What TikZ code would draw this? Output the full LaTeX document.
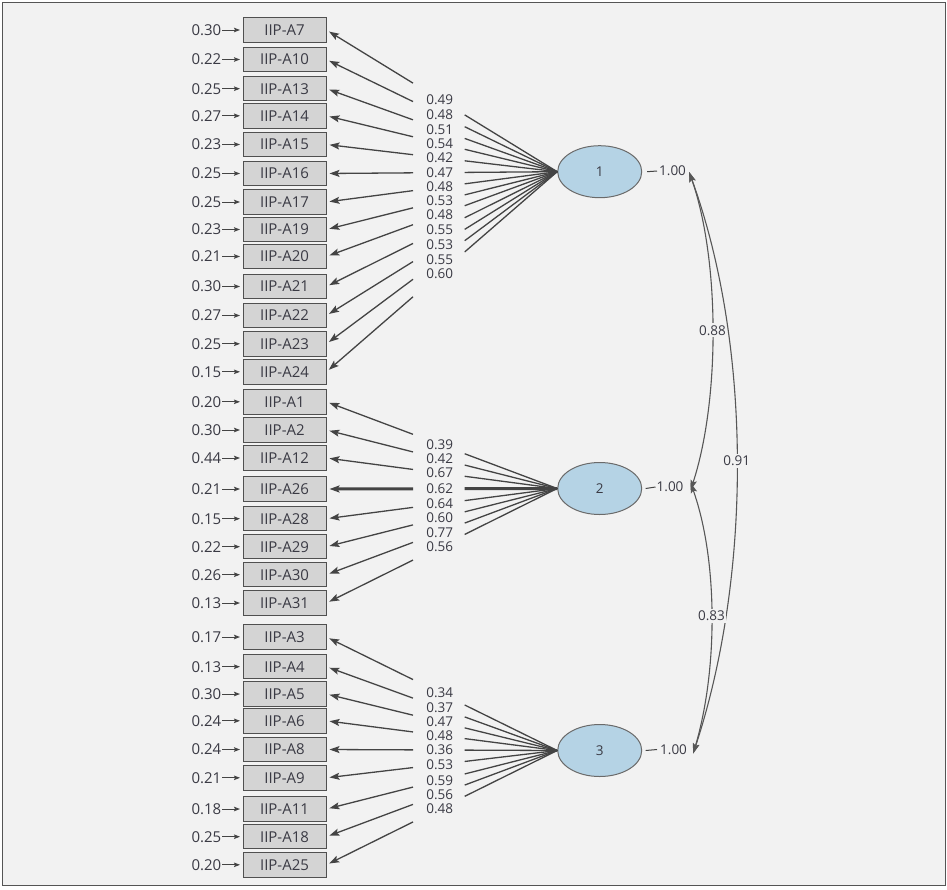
\documentclass[tikz,border=0pt]{standalone}
\usepackage{fontspec}
\setmainfont{Open Sans}
\usetikzlibrary{arrows.meta,calc,shapes.geometric}
\definecolor{bg}{HTML}{F2F2F2}
\definecolor{frame}{HTML}{555555}
\definecolor{boxfill}{HTML}{D4D4D4}
\definecolor{boxline}{HTML}{505050}
\definecolor{latfill}{HTML}{B5D3E5}
\definecolor{latline}{HTML}{6A6A6A}
\definecolor{txt}{HTML}{3A3A44}
\definecolor{ln}{HTML}{444444}
\begin{document}
\begin{tikzpicture}[x=1pt,y=-1pt,
  item/.style={draw=boxline, fill=boxfill, line width=1pt, minimum width=83pt, minimum height=24.5pt, inner sep=0pt, text=txt, font=\fontsize{15}{16}\selectfont},
  err/.style={anchor=east, inner sep=0pt, text=txt, font=\fontsize{15}{16}\selectfont},
  lab/.style={inner sep=0pt, text=txt, font=\fontsize{13.5}{14}\selectfont},
  lat/.style={ellipse, draw=latline, fill=latfill, line width=1pt, minimum width=84pt, minimum height=52pt, inner sep=0pt, text=txt, font=\fontsize{13.5}{15}\selectfont},
  var/.style={anchor=west, inner sep=0pt, text=txt, font=\fontsize{13.5}{14}\selectfont},
  lw1/.style={line width=1.3pt},
  lw3/.style={line width=3pt},
  ld/.style={draw=ln},
  ldarr/.style={draw=ln, -{Stealth[length=10pt,width=7pt,inset=2pt]}, shorten >=3pt},
  errarr/.style={draw=ln, line width=1pt, -{Stealth[length=6pt,width=4.5pt,inset=1pt]}, shorten >=2.5pt, shorten <=0.5pt},
  cov/.style={draw=ln!90, line width=1.1pt, {Stealth[length=10pt,width=6.5pt,inset=2pt]}-{Stealth[length=10pt,width=6.5pt,inset=2pt]}},
  covlab/.style={fill=bg, inner xsep=1pt, inner ysep=2pt, text=txt, font=\fontsize{13.5}{15}\selectfont}
]
\useasboundingbox (0,0) rectangle (947,889);
\fill[white] (0,0) rectangle (947,889);
\draw[frame, fill=bg, line width=1.6pt] (2.5,2.5) rectangle (945.5,885.5);

% latent factors
\node[lat] (f1) at (599.7,171.7) {1};
\node[lat] (f2) at (599.7,488.5) {2};
\node[lat] (f3) at (599.7,750.5) {3};

% variances
\node[var] (v1) at (659,171) {1.00};
\node[var] (v2) at (656.5,487) {1.00};
\node[var] (v3) at (660,749.5) {1.00};
\draw[ln, line width=1pt] ([xshift=5pt]f1.east) -- ([xshift=-2pt]v1.west);
\draw[ln, line width=1pt] ([xshift=3.5pt]f2.east) -- ([xshift=-1pt]v2.west);
\draw[ln, line width=1pt] ([xshift=3.5pt]f3.east) -- ([xshift=-3pt]v3.west);

% group 1
\foreach \n/\y/\e/\l/\s in {A7/30/0.30/0.49/lw1, A10/59.5/0.22/0.48/lw1, A13/88.7/0.25/0.51/lw1, A14/115.8/0.27/0.54/lw1, A15/144.5/0.23/0.42/lw1, A16/173.5/0.25/0.47/lw1, A17/202/0.25/0.48/lw1, A19/229.5/0.23/0.53/lw1, A20/256.5/0.21/0.48/lw1, A21/286.5/0.30/0.55/lw1, A22/315.5/0.27/0.53/lw1, A23/343.8/0.25/0.55/lw1, A24/371.8/0.15/0.60/lw1}{
  \node[item] (\n) at (284.5,\y) {IIP-\n};
  \node[err] (e\n) at (221.5,\y) {\e};
  \draw[errarr] (e\n.east) -- (\n.west);
  \draw[ld,\s] (f1.west) -- ($(f1.west)!0.401!(\n.east)$);
  \draw[ldarr,\s] ($(f1.west)!0.625!(\n.east)$) -- (\n.east);
  \node[lab] (l\n) at ($(f1.west)!0.509!(\n.east)$) {\l};
}
% group 2
\foreach \n/\y/\e/\l/\s in {A1/401.8/0.20/0.39/lw1, A2/430/0.30/0.42/lw1, A12/458/0.44/0.67/lw1, A26/489/0.21/0.62/lw3, A28/518.7/0.15/0.64/lw1, A29/546.7/0.22/0.60/lw1, A30/574.7/0.26/0.77/lw1, A31/603/0.13/0.56/lw1}{
  \node[item] (\n) at (284.5,\y) {IIP-\n};
  \node[err] (e\n) at (221.5,\y) {\e};
  \draw[errarr] (e\n.east) -- (\n.west);
  \draw[ld,\s] (f2.west) -- ($(f2.west)!0.401!(\n.east)$);
  \draw[ldarr,\s] ($(f2.west)!0.625!(\n.east)$) -- (\n.east);
  \node[lab] (l\n) at ($(f2.west)!0.509!(\n.east)$) {\l};
}
% group 3
\foreach \n/\y/\e/\l/\s in {A3/637/0.17/0.34/lw1, A4/666.7/0.13/0.37/lw1, A5/694/0.30/0.47/lw1, A6/720.8/0.24/0.48/lw1, A8/749.5/0.24/0.36/lw1, A9/777.8/0.21/0.53/lw1, A11/809/0.18/0.59/lw1, A18/836.7/0.25/0.56/lw1, A25/864.8/0.20/0.48/lw1}{
  \node[item] (\n) at (284.5,\y) {IIP-\n};
  \node[err] (e\n) at (221.5,\y) {\e};
  \draw[errarr] (e\n.east) -- (\n.west);
  \draw[ld,\s] (f3.west) -- ($(f3.west)!0.401!(\n.east)$);
  \draw[ldarr,\s] ($(f3.west)!0.625!(\n.east)$) -- (\n.east);
  \node[lab] (l\n) at ($(f3.west)!0.509!(\n.east)$) {\l};
}

% covariances
\draw[cov] ([xshift=3pt,yshift=-1pt]v1.east) .. controls (720,260) and (720,400) .. ([xshift=7pt,yshift=-3pt]v2.east)
  node[covlab, pos=0.5] (c12) {0.88};
\draw[cov] ([xshift=3pt,yshift=-1pt]v1.east) .. controls (752,345) and (752,575) .. ([xshift=6pt,yshift=-4pt]v3.east)
  node[covlab, pos=0.5] (c13) {0.91};
\draw[cov] ([xshift=7pt,yshift=4pt]v2.east) .. controls (718,560) and (718,670) .. ([xshift=6pt,yshift=-4pt]v3.east)
  node[covlab, pos=0.5] (c23) {0.83};
\end{tikzpicture}
\end{document}
